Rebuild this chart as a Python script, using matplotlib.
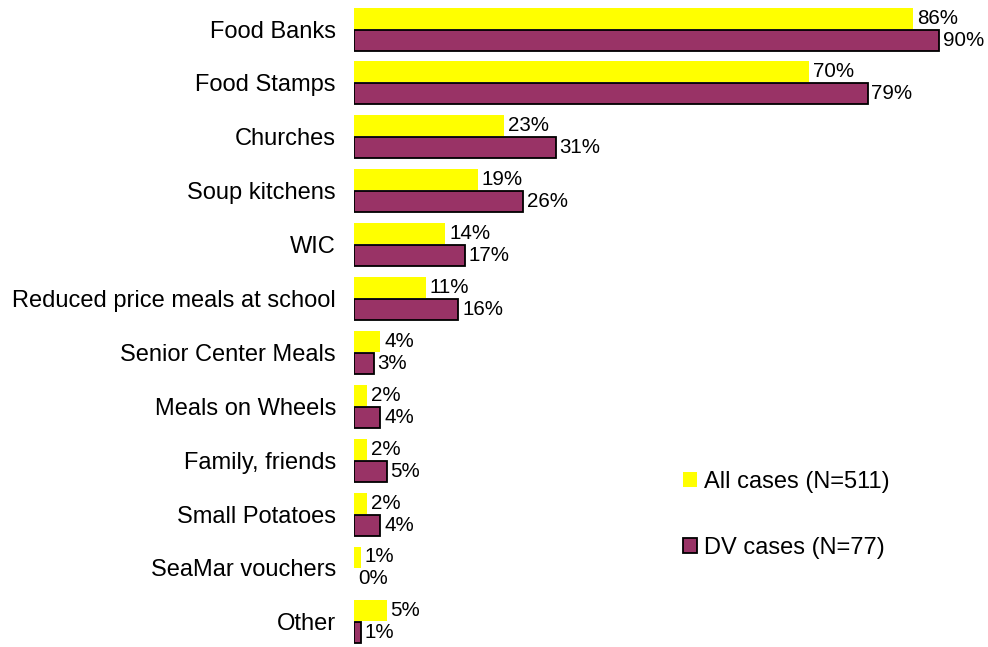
import matplotlib
matplotlib.use("Agg")
import matplotlib.pyplot as plt
import numpy as np

categories = ["Food Banks", "Food Stamps", "Churches", "Soup kitchens", "WIC",
              "Reduced price meals at school", "Senior Center Meals",
              "Meals on Wheels", "Family, friends", "Small Potatoes",
              "SeaMar vouchers", "Other"]
all_cases = [86, 70, 23, 19, 14, 11, 4, 2, 2, 2, 1, 5]
dv_cases = [90, 79, 31, 26, 17, 16, 3, 4, 5, 4, 0, 1]
series_labels = ["All cases (N=511)", "DV cases (N=77)"]

plt.rcParams["font.family"] = ["Liberation Sans", "DejaVu Sans"]

W, H = 988, 647
fig = plt.figure(figsize=(W / 100, H / 100), dpi=100)

# axes placed so that 0% sits at x=354 px, ~6.5 px per percent
x0_px = 354
px_per_pct = 6.5
ax_w = (W - x0_px) / W
ax = fig.add_axes([x0_px / W, 0, ax_w, 1])
ax.set_xlim(0, (W - x0_px) / px_per_pct)

# group spacing ~53.9 px, first group centred at 29 px
spacing = 53.9
first = 29
ax.set_ylim((H - first) / spacing, -first / spacing)

y = np.arange(len(categories))
bh = 21 / spacing
off = 11 / spacing

yellow = "#FFFF00"
maroon = "#993366"

b1 = ax.barh(y - off, all_cases, height=bh, color=yellow, edgecolor="none",
             label=series_labels[0])
b2 = ax.barh(y + off, dv_cases, height=bh, color=maroon, edgecolor="black",
             linewidth=1.3, label=series_labels[1])
for patch, v in zip(b2.patches, dv_cases):
    if v == 0:
        patch.set_linewidth(0)

lab_off = 4 / px_per_pct
for yi, v in zip(y, all_cases):
    ax.text(v + lab_off, yi - off, f"{v}%", va="center", ha="left",
            fontsize=14.8, color="black")
for yi, v in zip(y, dv_cases):
    ax.text(v + lab_off, yi + off, f"{v}%", va="center", ha="left",
            fontsize=14.8, color="black")

ax.set_yticks(y)
ax.set_yticklabels(categories, fontsize=17)
ax.tick_params(axis="y", length=0, pad=13)
ax.set_xticks([])
for s in ax.spines.values():
    s.set_visible(False)

leg = fig.legend(handles=[b1, b2], labels=series_labels,
                 loc="upper left", bbox_to_anchor=(683 / W, 1 - 471 / H),
                 frameon=False, fontsize=17, handlelength=0.6,
                 handleheight=0.6, handletextpad=0.28, labelspacing=1.87,
                 borderpad=0, borderaxespad=0)
leg.legend_handles[0].set_edgecolor("none")

fig.savefig("out.png", dpi=100)
